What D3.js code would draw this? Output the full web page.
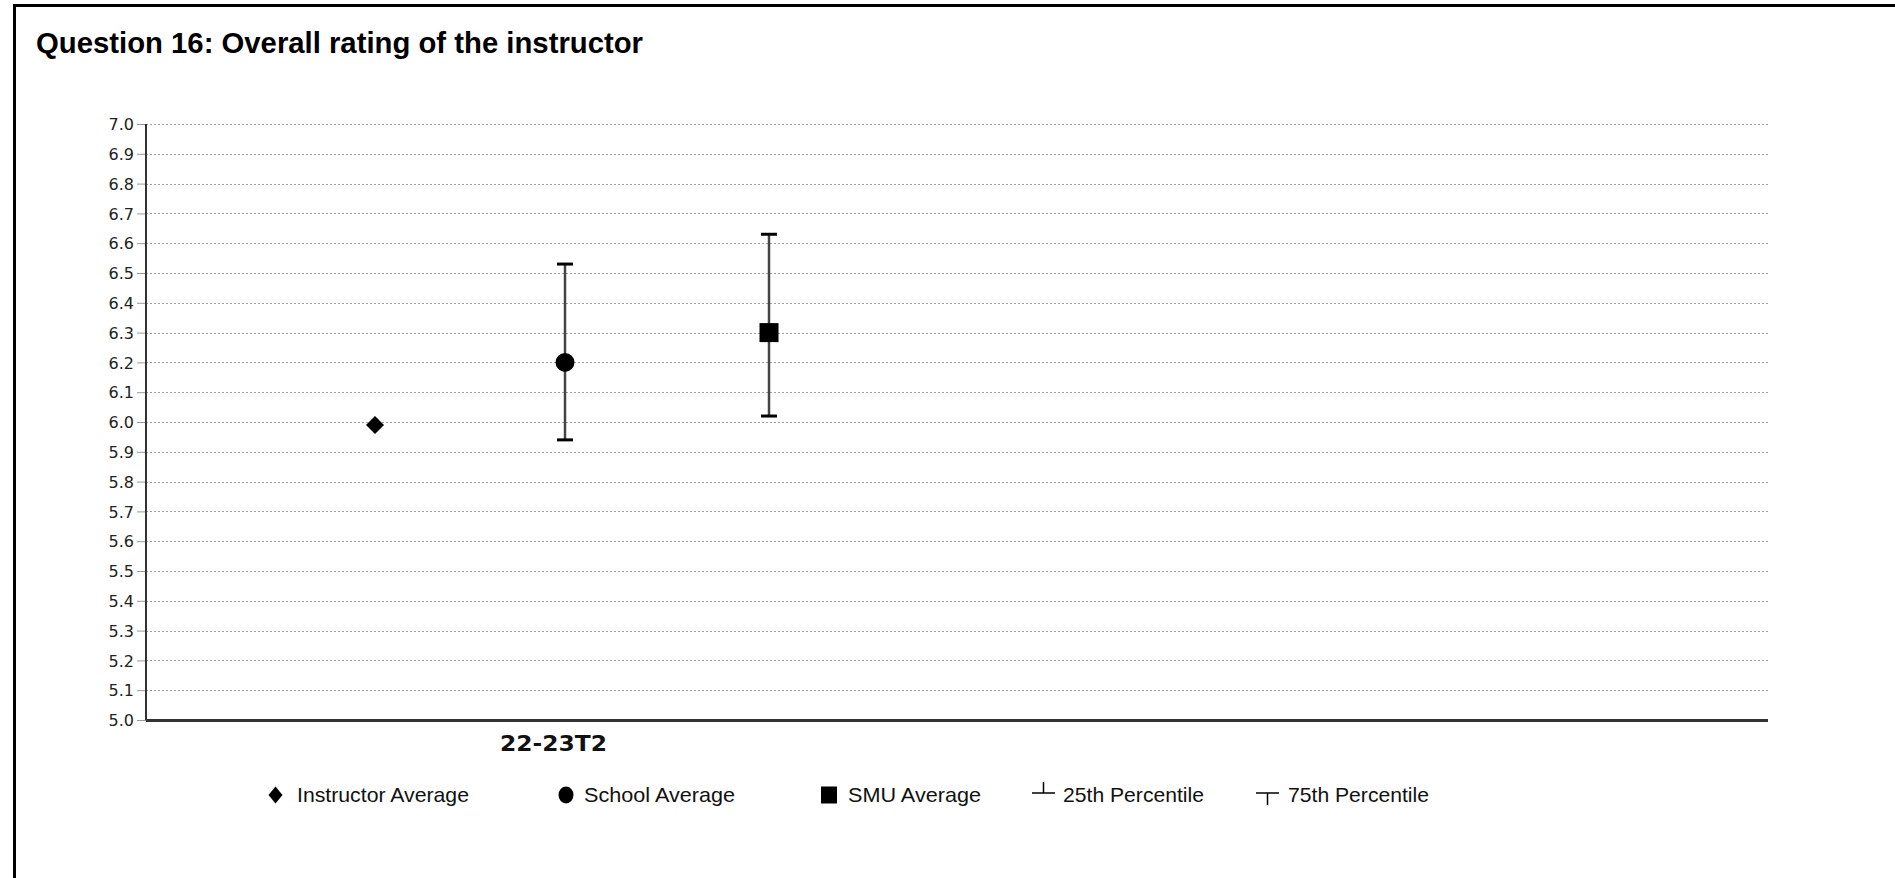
<!DOCTYPE html>
<html>
<head>
<meta charset="utf-8">
<script src="https://cdn.jsdelivr.net/npm/d3@7"></script>
<style>
  html, body { margin: 0; padding: 0; background: #fff; overflow: hidden; }
  svg { display: block; }
</style>
</head>
<body>
<svg id="chart" width="1895" height="878"></svg>
<script>
// ---- data ----
const titleText = "Question 16: Overall rating of the instructor";
const categories = ["22-23T2", ""];
const seriesNames = ["Instructor Average", "School Average", "SMU Average"];
const seriesMeans = [5.99, 6.20, 6.30];
const seriesP25 = [null, 5.94, 6.02];
const seriesP75 = [null, 6.53, 6.63];
const yTicks = [5.0, 5.1, 5.2, 5.3, 5.4, 5.5, 5.6, 5.7, 5.8, 5.9, 6.0, 6.1, 6.2, 6.3, 6.4, 6.5, 6.6, 6.7, 6.8, 6.9, 7.0];
const legendLabels = ["Instructor Average", "School Average", "SMU Average", "25th Percentile", "75th Percentile"];

// ---- layout ----
const svg = d3.select("#chart");
const plot = { left: 146, right: 1768, top: 124, bottom: 720 };

// outer frame (extends past right/bottom edges)
svg.append("rect")
  .attr("x", 14.5).attr("y", 5.5)
  .attr("width", 2000).attr("height", 1000)
  .attr("fill", "none").attr("stroke", "#000").attr("stroke-width", 3);

// title
svg.append("text")
  .attr("x", 36).attr("y", 53)
  .attr("font-family", "'Liberation Sans', Arial, sans-serif")
  .attr("font-weight", "bold").attr("font-size", 29)
  .attr("textLength", 607).attr("lengthAdjust", "spacingAndGlyphs")
  .attr("fill", "#000")
  .text(titleText);

const y = d3.scaleLinear().domain([5, 7]).range([plot.bottom, plot.top]);
const x = d3.scaleBand().domain(categories).range([plot.left, plot.right]).padding(0);
// position of each series inside the category band
const xs = d3.scaleOrdinal().domain(seriesNames).range([229, 419, 623]);

// gridlines
svg.append("g").selectAll("line")
  .data(yTicks.slice(1))
  .join("line")
  .attr("x1", plot.left).attr("x2", plot.right)
  .attr("y1", d => Math.round(y(d)) + 0.5).attr("y2", d => Math.round(y(d)) + 0.5)
  .attr("stroke", "#a0a0a0").attr("stroke-width", 1)
  .attr("stroke-dasharray", "2,2");

// y axis
const yAxis = d3.axisLeft(y).tickValues(yTicks).tickFormat(d3.format(".1f")).tickSize(9).tickPadding(0);
const gy = svg.append("g").attr("transform", `translate(${plot.left},0)`).call(yAxis);
gy.select(".domain").remove();
gy.selectAll(".tick line").attr("stroke", "#999").attr("stroke-width", 1);
gy.selectAll(".tick text")
  .attr("x", -12)
  .attr("dy", "0.36em")
  .attr("font-family", "'DejaVu Sans', Verdana, sans-serif")
  .attr("font-size", 16)
  .attr("fill", "#222");

// axis lines
svg.append("line")
  .attr("x1", plot.left).attr("x2", plot.left)
  .attr("y1", plot.top).attr("y2", plot.bottom)
  .attr("stroke", "#333").attr("stroke-width", 2);
svg.append("line")
  .attr("x1", plot.left).attr("x2", plot.right)
  .attr("y1", plot.bottom + 0.5).attr("y2", plot.bottom + 0.5)
  .attr("stroke", "#333").attr("stroke-width", 3);

// x axis category labels
const xAxis = d3.axisBottom(x).tickSize(0).tickPadding(0);
const gx = svg.append("g").attr("transform", `translate(${x.bandwidth() * 0.0025},${plot.bottom})`).call(xAxis);
gx.select(".domain").remove();
gx.selectAll(".tick text")
  .attr("y", 31).attr("dy", 0)
  .attr("font-family", "'DejaVu Sans', Verdana, sans-serif")
  .attr("font-weight", "bold").attr("font-size", 21)
  .attr("fill", "#111")
  .each(function(d) { if (d) d3.select(this).attr("textLength", 107).attr("lengthAdjust", "spacingAndGlyphs"); });

// data marks
const cat = categories[0];
const pts = seriesNames.map((s, i) => ({
  s, i, cx: x(cat) + xs(s), mean: seriesMeans[i], p25: seriesP25[i], p75: seriesP75[i]
}));

const g = svg.append("g");
// error bars
pts.filter(d => d.p25 != null).forEach(d => {
  g.append("line")
    .attr("x1", d.cx).attr("x2", d.cx)
    .attr("y1", y(d.p75)).attr("y2", y(d.p25))
    .attr("stroke", "#444").attr("stroke-width", 2.5);
  [d.p25, d.p75].forEach(v => {
    g.append("line")
      .attr("x1", d.cx - 8).attr("x2", d.cx + 8)
      .attr("y1", y(v)).attr("y2", y(v))
      .attr("stroke", "#000").attr("stroke-width", 3);
  });
});

// markers
pts.forEach(d => {
  if (d.i === 0) {
    g.append("path")
      .attr("d", `M0,-9L9,0L0,9L-9,0Z`)
      .attr("transform", `translate(${d.cx},${y(d.mean)})`)
      .attr("fill", "#000");
  } else if (d.i === 1) {
    g.append("circle").attr("cx", d.cx).attr("cy", y(d.mean)).attr("r", 9.5).attr("fill", "#000");
  } else {
    g.append("rect").attr("x", d.cx - 9.5).attr("y", y(d.mean) - 9.5)
      .attr("width", 19).attr("height", 19).attr("fill", "#000");
  }
});

// legend
const legendLayout = [
  { sx: 275.5, tx: 297, tl: 172 },
  { sx: 566, tx: 584, tl: 151 },
  { sx: 829, tx: 848, tl: 133 },
  { sx: 1043.5, tx: 1063, tl: 141 },
  { sx: 1267.5, tx: 1288, tl: 141 }
];
const lg = svg.append("g");
const ly = 795;
legendLabels.forEach((lab, i) => {
  const L = legendLayout[i];
  if (i === 0) {
    lg.append("path").attr("d", `M${L.sx},${ly - 8.5}L${L.sx + 7},${ly}L${L.sx},${ly + 8.5}L${L.sx - 7},${ly}Z`).attr("fill", "#000");
  } else if (i === 1) {
    lg.append("ellipse").attr("cx", L.sx).attr("cy", ly).attr("rx", 7.5).attr("ry", 8.5).attr("fill", "#000");
  } else if (i === 2) {
    lg.append("rect").attr("x", L.sx - 8).attr("y", ly - 8.5).attr("width", 16).attr("height", 17).attr("fill", "#000");
  } else if (i === 3) {
    lg.append("line").attr("x1", L.sx - 11.5).attr("x2", L.sx + 11.5).attr("y1", 793).attr("y2", 793).attr("stroke", "#000").attr("stroke-width", 1.5);
    lg.append("line").attr("x1", L.sx).attr("x2", L.sx).attr("y1", 782).attr("y2", 793).attr("stroke", "#000").attr("stroke-width", 1.5);
  } else {
    lg.append("line").attr("x1", L.sx - 11.5).attr("x2", L.sx + 11.5).attr("y1", 793).attr("y2", 793).attr("stroke", "#000").attr("stroke-width", 1.5);
    lg.append("line").attr("x1", L.sx).attr("x2", L.sx).attr("y1", 793).attr("y2", 805).attr("stroke", "#000").attr("stroke-width", 1.5);
  }
  lg.append("text")
    .attr("x", L.tx).attr("y", 802)
    .attr("font-family", "'Liberation Sans', Arial, sans-serif")
    .attr("font-size", 21)
    .attr("fill", "#111")
    .attr("textLength", L.tl).attr("lengthAdjust", "spacingAndGlyphs")
    .text(lab);
});
</script>
</body>
</html>
